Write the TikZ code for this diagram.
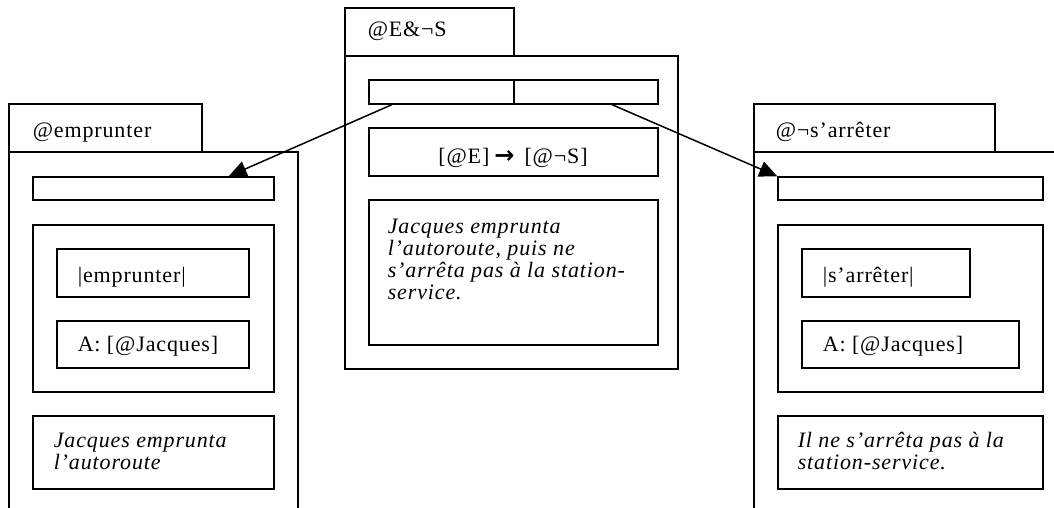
\documentclass[tikz,border=0pt]{standalone}
\usepackage{fontspec}
\setmainfont{Liberation Serif}[LetterSpace=4]
\newfontfamily\symfont{DejaVu Sans}
\usetikzlibrary{fit,calc,arrows.meta}
\tikzset{
  box/.style={draw,rectangle,inner sep=0pt,fit={#1}},
  txt/.style={anchor=base west,inner sep=0pt,font=\fontsize{22}{22}\selectfont},
  % multi-line texts: the base anchor sits on the last line
  itxt/.style={anchor=base west,inner sep=0pt,align=left,
    font=\fontsize{22}{22}\selectfont\itshape},
  link/.style={-{Triangle[length=18pt,width=16pt]},line width=1.5pt}
}
\begin{document}
\begin{tikzpicture}[x=1pt,y=-1pt,line width=1.5pt]
\useasboundingbox (0,0) rectangle (1054,508);

% ---- centre frame: @E&¬S
\node[box={(345,8)(514,56)}] (tabC) {};
\node[txt] (tabCtxt) at (367,37) {@E\&¬S};
\node[box={(345,56)(678,369)}] (frameC) {};
\node[box={(369,80)(514,104)}] (barCL) {};
\node[box={(514,80)(658,104)}] (barCR) {};
\node[box={(369,128)(658,176)}] (ruleC) {};
\node[txt,anchor=base] (ruleCtxt) at (513,163)
  {[@E]\hspace{5pt}{\symfont\bfseries\fontsize{24}{24}\selectfont →}\hspace{10pt}[@¬S]};
\node[box={(369,200)(658,345)}] (descC) {};
\node[itxt] (descCtxt) at (387,299)
  {Jacques emprunta\\ l’autoroute, puis ne\\ s’arrêta pas à la station-\\ service.};

% ---- left frame: @emprunter
\node[box={(9,104)(202,152)}] (tabL) {};
\node[txt] (tabLtxt) at (32,137) {@emprunter};
\draw (9,508) -- (9,152) -- (298,152) -- (298,508);
\node[box={(33,177)(274,200)}] (barL) {};
\node[box={(33,225)(274,392)}] (grpL) {};
\node[box={(57,249)(249,297)}] (lexL) {};
\node[txt] (lexLtxt) at (77,282) {|emprunter|};
\node[box={(57,321)(249,368)}] (argL) {};
\node[txt] (argLtxt) at (77,351) {A: [@Jacques]};
\node[box={(33,416)(274,489)}] (descL) {};
\node[itxt] (descLtxt) at (53,469) {Jacques emprunta\\ l’autoroute};

% ---- right frame: @¬s'arrêter
\node[box={(754,104)(995,152)}] (tabR) {};
\node[txt] (tabRtxt) at (775,137) {@¬s’arrêter};
\draw (754,508) -- (754,152) -- (1054,152);
\node[box={(778,177)(1043,200)}] (barR) {};
\node[box={(778,225)(1043,392)}] (grpR) {};
\node[box={(802,249)(970,297)}] (lexR) {};
\node[txt] (lexRtxt) at (822,282) {|s’arrêter|};
\node[box={(802,321)(1019,368)}] (argR) {};
\node[txt] (argRtxt) at (822,351) {A: [@Jacques]};
\node[box={(778,416)(1043,489)}] (descR) {};
\node[itxt] (descRtxt) at (797,469) {Il ne s’arrêta pas à la\\ station-service.};

% ---- links from the composite slots to the sub-frames
\draw[link] ($(barCL.south west)!0.16!(barCL.south east)$)
  -- ($(barL.north west)!0.81!(barL.north east)$);
\draw[link] ($(barCR.south west)!0.68!(barCR.south east)$)
  -- (barR.north west);
\end{tikzpicture}
\end{document}
